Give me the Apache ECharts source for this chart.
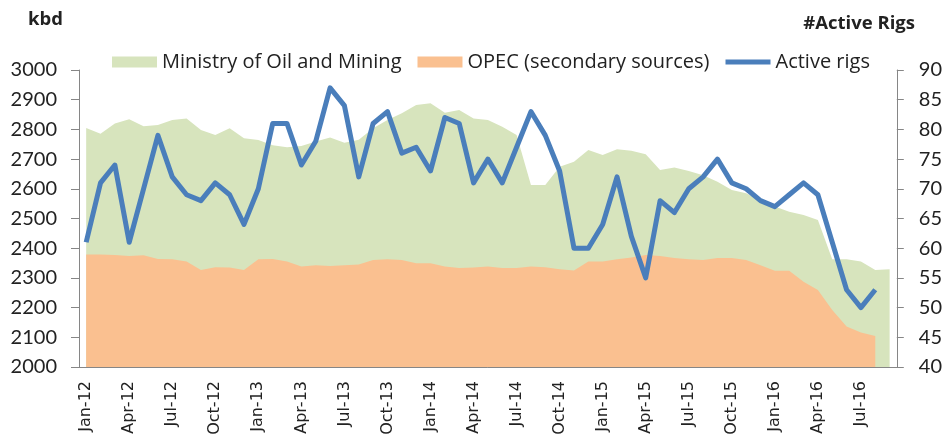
<!DOCTYPE html>
<html>
<head>
<meta charset="utf-8">
<title>Oil production and active rigs</title>
<script src="https://cdn.jsdelivr.net/npm/echarts@6/dist/echarts.min.js"></script>
<style>
  html, body { margin: 0; padding: 0; background: #fff; }
  #chart { width: 945px; height: 448px; }
</style>
</head>
<body>
<div id="chart"></div>
<script>
// months, Jan-12 .. Sep-16
const months = [
  'Jan-12', 'Feb-12', 'Mar-12', 'Apr-12', 'May-12', 'Jun-12', 'Jul-12', 'Aug-12', 'Sep-12', 'Oct-12', 'Nov-12', 'Dec-12',
  'Jan-13', 'Feb-13', 'Mar-13', 'Apr-13', 'May-13', 'Jun-13', 'Jul-13', 'Aug-13', 'Sep-13', 'Oct-13', 'Nov-13', 'Dec-13',
  'Jan-14', 'Feb-14', 'Mar-14', 'Apr-14', 'May-14', 'Jun-14', 'Jul-14', 'Aug-14', 'Sep-14', 'Oct-14', 'Nov-14', 'Dec-14',
  'Jan-15', 'Feb-15', 'Mar-15', 'Apr-15', 'May-15', 'Jun-15', 'Jul-15', 'Aug-15', 'Sep-15', 'Oct-15', 'Nov-15', 'Dec-15',
  'Jan-16', 'Feb-16', 'Mar-16', 'Apr-16', 'May-16', 'Jun-16', 'Jul-16', 'Aug-16', 'Sep-16'
];

// kbd
const ministry = [
  2805, 2785, 2820, 2834, 2811, 2815, 2832, 2837, 2798, 2781, 2804, 2770,
  2764, 2747, 2740, 2744, 2759, 2773, 2755, 2765, 2804, 2832, 2854, 2882,
  2888, 2856, 2865, 2837, 2832, 2809, 2781, 2613, 2613, 2674, 2691, 2731,
  2714, 2733, 2728, 2716, 2663, 2672, 2660, 2646, 2624, 2596, 2585, 2562,
  2540, 2523, 2512, 2495, 2363, 2363, 2355, 2327, 2329
];

// kbd
const opec = [
  2379, 2379, 2377, 2374, 2376, 2364, 2363, 2355, 2327, 2336, 2335, 2327,
  2363, 2364, 2355, 2338, 2343, 2340, 2343, 2345, 2360, 2363, 2360, 2349,
  2349, 2338, 2333, 2335, 2338, 2333, 2333, 2338, 2336, 2329, 2325, 2355,
  2355, 2363, 2369, 2377, 2374, 2367, 2363, 2360, 2367, 2367, 2360, 2343,
  2324, 2324, 2287, 2259, 2192, 2136, 2116, 2104
];

// number of active rigs (right axis)
const rigs = [
  61, 71, 74, 61, 70, 79, 72, 69, 68, 71, 69, 64,
  70, 81, 81, 74, 78, 87, 84, 72, 81, 83, 76, 77,
  73, 82, 81, 71, 75, 71, 77, 83, 79, 73, 60, 60,
  64, 72, 62, 55, 68, 66, 70, 72, 75, 71, 70, 68,
  67, 69, 71, 69, 61, 53, 50, 53
];

const font = 'Lato, "Liberation Sans", sans-serif';
const wideFont = '"Open Sans", "DejaVu Sans", sans-serif';
const axisGrey = '#868686';
const textColor = '#222';

const chart = echarts.init(document.getElementById('chart'));

// plain numbers, no thousands separator
function plain(v) {
  return String(v);
}

const option = {
  backgroundColor: '#ffffff',
  animation: false,
  textStyle: { fontFamily: font, color: textColor },
  title: [
    {
      text: 'kbd',
      left: 23, top: 5,
      textStyle: { fontFamily: wideFont, fontSize: 18.5, fontWeight: 'bold', color: textColor }
    },
    {
      text: '#Active Rigs',
      right: 25, top: 9,
      textStyle: { fontFamily: wideFont, fontSize: 18.5, fontWeight: 'bold', color: textColor }
    }
  ],
  legend: {
    left: 107, top: 47,
    itemWidth: 45, itemHeight: 11, itemGap: 16,
    textStyle: { fontFamily: wideFont, fontSize: 20, color: textColor },
    data: [
      { name: 'Ministry of Oil and Mining', icon: 'rect' },
      { name: 'OPEC (secondary sources)', icon: 'rect' },
      { name: 'Active rigs', icon: 'path://M0 0 L45 0 L45 5 L0 5 Z' }
    ]
  },
  grid: { left: 79, right: 48, top: 70, bottom: 81 },
  xAxis: {
    type: 'category',
    data: months,
    boundaryGap: true,
    axisLine: { lineStyle: { color: axisGrey, width: 1 } },
    axisTick: { interval: 2, length: 8, lineStyle: { color: axisGrey } },
    axisLabel: {
      interval: 2, rotate: 90, fontSize: 16, margin: 14,
      color: textColor, fontFamily: '"DejaVu Sans", sans-serif'
    }
  },
  yAxis: [
    {
      type: 'value',
      min: 2000, max: 3000, interval: 100,
      splitLine: { show: false },
      axisLine: { show: true, lineStyle: { color: axisGrey } },
      axisTick: { show: true, length: 8, lineStyle: { color: axisGrey } },
      axisLabel: { fontSize: 20, margin: 22, color: textColor, fontFamily: font, formatter: plain }
    },
    {
      type: 'value',
      min: 40, max: 90, interval: 5,
      splitLine: { show: false },
      axisLine: { show: true, lineStyle: { color: axisGrey } },
      axisTick: { show: true, length: 7, lineStyle: { color: axisGrey } },
      axisLabel: { fontSize: 20, margin: 22, color: textColor, fontFamily: font, formatter: plain }
    }
  ],
  series: [
    {
      name: 'Ministry of Oil and Mining',
      type: 'line',
      data: ministry,
      symbol: 'none',
      itemStyle: { color: '#d7e4bd' },
      lineStyle: { width: 0 },
      areaStyle: { color: '#d7e4bd', opacity: 1 },
      z: 1
    },
    {
      name: 'OPEC (secondary sources)',
      type: 'line',
      data: opec,
      symbol: 'none',
      itemStyle: { color: '#fac090' },
      lineStyle: { width: 0 },
      areaStyle: { color: '#fac090', opacity: 1 },
      z: 2
    },
    {
      name: 'Active rigs',
      type: 'line',
      yAxisIndex: 1,
      data: rigs,
      symbol: 'none',
      itemStyle: { color: '#4a7ebb' },
      lineStyle: { width: 5, color: '#4a7ebb', join: 'round' },
      z: 3
    }
  ]
};

chart.setOption(option);
</script>
</body>
</html>
